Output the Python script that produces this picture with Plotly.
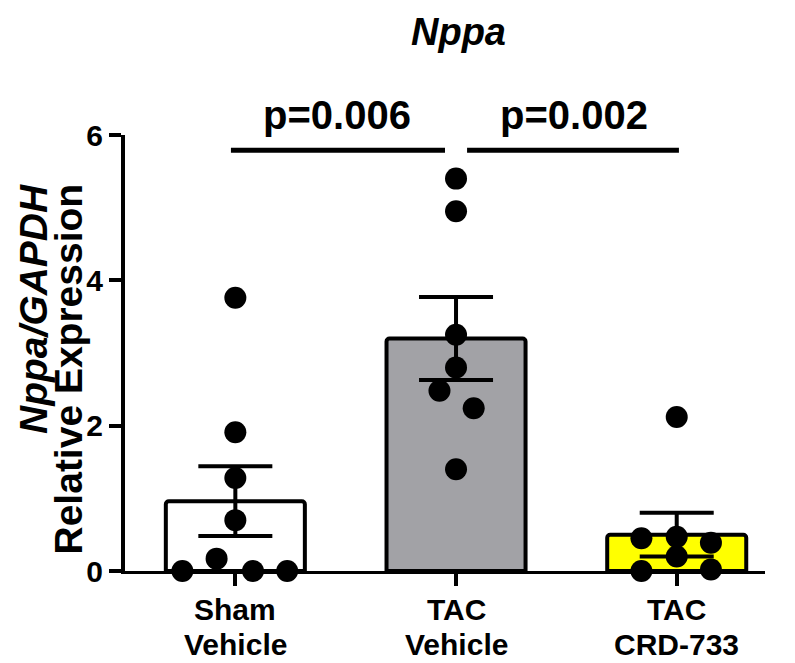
import plotly.graph_objects as go

groups = ["Sham<br>Vehicle", "TAC<br>Vehicle", "TAC<br>CRD-733"]
means = [0.96, 3.20, 0.50]
sems = [0.48, 0.57, 0.30]
bar_colors = ["#FFFFFF", "#A2A2A6", "#FFFF00"]

sham_vals = [3.76, 1.91, 1.28, 0.70, 0.17, 0.0, 0.0, 0.0]
tac_vals = [5.40, 4.95, 3.25, 2.80, 2.48, 2.24, 1.40]
crd_vals = [2.12, 0.45, 0.47, 0.39, 0.20, 0.0, 0.02]
point_sets = [sham_vals, tac_vals, crd_vals]

# horizontal spread of the dots, so they don't sit on top of each other
jitter = [
    [0, 0, 0, 0, -0.085, -0.24, 0.08, 0.235],
    [0, 0, 0, 0, -0.075, 0.08, 0],
    [0, -0.16, 0, 0.155, 0, -0.16, 0.155],
]

p_labels = ["p=0.006", "p=0.002"]

FONT = "Arial, Liberation Sans, sans-serif"
BOLD = dict(family=FONT, color="black", weight="bold")

# plot area in page pixels (page has an 8px body margin)
X0, Y0, PW, PH = 125, 571, 640, 436


def px(x):
    return (x - X0) / PW


def py(y):
    return (Y0 - y) / PH


fig = go.Figure()
fig.add_trace(go.Bar(
    x=[0, 1, 2], y=means, width=0.63,
    marker=dict(color=bar_colors, line=dict(color="black", width=4), cornerradius=3),
    error_y=dict(type="data", array=sems, color="black", thickness=4, width=37),
    showlegend=False))

for i, vals in enumerate(point_sets):
    fig.add_trace(go.Scatter(
        x=[i + j for j in jitter[i]], y=vals, mode="markers",
        marker=dict(color="black", size=22),
        cliponaxis=False, showlegend=False))

# significance brackets
fig.add_shape(type="line", x0=-0.02, x1=0.95, y0=5.79, y1=5.79,
              line=dict(color="black", width=5))
fig.add_shape(type="line", x0=1.05, x1=2.01, y0=5.79, y1=5.79,
              line=dict(color="black", width=5))
fig.add_annotation(x=0.46, yref="paper", y=py(115), text=p_labels[0], showarrow=False,
                   yanchor="middle", font=dict(size=40, **BOLD))
fig.add_annotation(x=1.535, yref="paper", y=py(115), text=p_labels[1], showarrow=False,
                   yanchor="middle", font=dict(size=40, **BOLD))

# category labels, two tight lines each
for i, g in enumerate(groups):
    for k, line in enumerate(g.split("<br>")):
        fig.add_annotation(x=i, yref="paper", y=py(609 + 35 * k), text=line,
                           showarrow=False, xanchor="center", yanchor="middle",
                           font=dict(size=30, **BOLD))

# title
fig.add_annotation(xref="paper", yref="paper", x=px(458), y=py(9),
                   text="<i>Nppa</i>", showarrow=False, xanchor="center", yanchor="top",
                   font=dict(size=38, **BOLD))
# y axis title, two lines set close together
fig.add_annotation(xref="paper", yref="paper", x=px(33), y=py(182),
                   text="<i>Nppa/GAPDH</i>", showarrow=False, textangle=-90,
                   xanchor="center", yanchor="top", font=dict(size=39, **BOLD))
fig.add_annotation(xref="paper", yref="paper", x=px(68), y=py(182),
                   text="Relative Expression", showarrow=False, textangle=-90,
                   xanchor="center", yanchor="top", font=dict(size=39, **BOLD))

fig.update_layout(
    width=787, height=655,
    margin=dict(l=X0 - 8, r=787 - (X0 - 8) - PW, t=Y0 - PH - 8, b=655 - (Y0 - 8)),
    plot_bgcolor="white", paper_bgcolor="white",
    font=dict(family=FONT, color="black"),
    xaxis=dict(range=[-0.5, 2.4], tickvals=[0, 1, 2], ticktext=["", "", ""],
               showline=True, linecolor="black", linewidth=3,
               ticks="outside", ticklen=12, tickwidth=4, tickcolor="black",
               showgrid=False, zeroline=False, automargin=False),
    yaxis=dict(range=[0, 6], tickvals=[0, 2, 4, 6],
               showline=True, linecolor="black", linewidth=4,
               ticks="outside", ticklen=12, tickwidth=4, tickcolor="black",
               showgrid=False, zeroline=False, automargin=False,
               tickfont=dict(size=30, **BOLD)),
)

fig.write_html("out.html")
